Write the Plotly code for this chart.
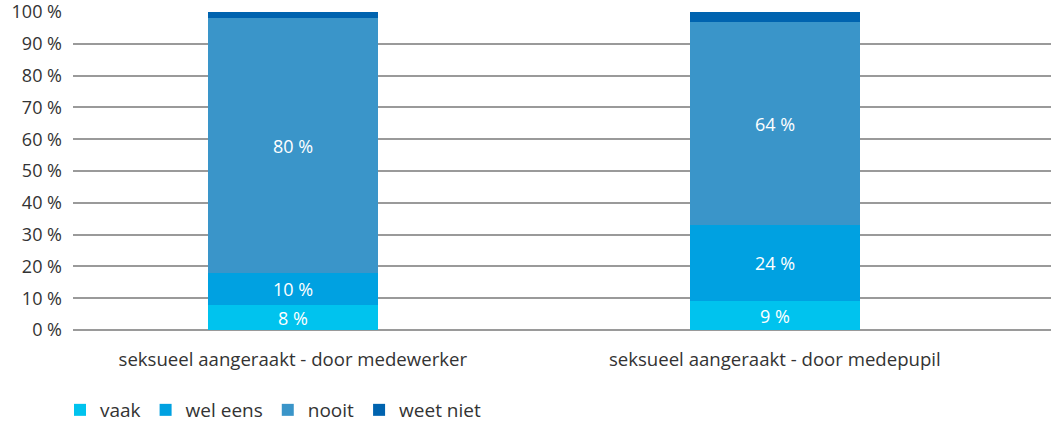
import plotly.graph_objects as go

categories = ["seksueel aangeraakt - door medewerker", "seksueel aangeraakt - door medepupil"]
series_names = ["vaak", "wel eens", "nooit", "weet niet"]
vaak = [8, 9]
wel_eens = [10, 24]
nooit = [80, 64]
weet_niet = [2, 3]
y_ticks = [0, 10, 20, 30, 40, 50, 60, 70, 80, 90, 100]
y_tick_labels = [f"{v} %" for v in y_ticks]

colors = ["#00C3EE", "#00A1E1", "#3A95C9", "#0063AF"]
values = [vaak, wel_eens, nooit, weet_niet]
show_text = [True, True, True, False]

FONT = "Open Sans"
xpos = list(range(len(categories)))
fig = go.Figure()
for name, vals, col, st in zip(series_names, values, colors, show_text):
    fig.add_trace(go.Bar(
        x=xpos, y=vals, name=name, marker=dict(color=col, line=dict(width=0)),
        width=0.353,
        text=[f"{v} %" for v in vals] if st else None,
        textposition="inside" if st else "none",
        insidetextanchor="middle",
        textfont=dict(color="white", size=18, family=FONT),
        hoverinfo="skip",
    ))

fig.update_layout(
    barmode="stack",
    width=1051, height=422,
    margin=dict(l=73, r=0, t=12, b=92),
    plot_bgcolor="white", paper_bgcolor="white",
    font=dict(family=FONT, size=18, color="#333333"),
    uniformtext=dict(mode="show", minsize=18),
    legend=dict(orientation="h", x=-0.0133, xanchor="left", yref="container",
                y=1 - 410 / 422, yanchor="middle",
                font=dict(size=19, color="#333333"), traceorder="normal",
                itemwidth=30, tracegroupgap=0),
    xaxis=dict(range=[-0.456, 1.573], tickvals=xpos, ticktext=categories,
               showgrid=False, zeroline=False, showline=False, ticks="", ticklabelstandoff=16,
               tickfont=dict(size=18.6, color="#333333")),
    yaxis=dict(range=[0, 100], tickvals=y_ticks, ticktext=y_tick_labels,
               showgrid=True, gridcolor="#9a9a9a", gridwidth=1.5, zeroline=True,
               zerolinecolor="#9a9a9a", zerolinewidth=2, showline=False, ticks="",
               ticklabelstandoff=10, ticklabeloverflow="allow",
               tickfont=dict(size=18, color="#333333")),
    bargap=0,
)
fig.write_html("out.html", config={"displayModeBar": False},
               post_script="document.body.style.margin='0';")
